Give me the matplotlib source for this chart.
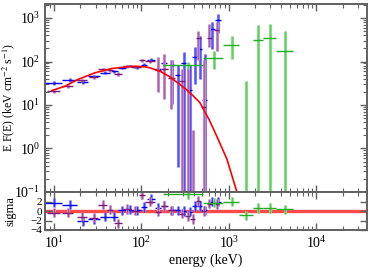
import numpy as np
import matplotlib
matplotlib.use("Agg")
import matplotlib.pyplot as plt
from matplotlib.ticker import FixedLocator

plt.rcParams['font.family'] = 'serif'
plt.rcParams['font.serif'] = ['Liberation Serif', 'DejaVu Serif']
plt.rcParams['mathtext.fontset'] = 'stix'

# detector 1 (blue): bin edges in keV, E F(E), lower/upper bounds, residual (sigma)
b_lo = [7.9, 12.3, 18.3, 24.5, 33.6, 43.7, 54.0, 66.7, 80.1, 98.9, 116, 143, 167, 212, 242, 281, 333, 383, 438, 500, 593, 695]
b_hi = [12.3, 18.3, 24.5, 33.6, 43.7, 54.0, 66.7, 80.1, 98.9, 116, 143, 167, 196, 242, 277, 328, 379, 438, 500, 570, 695, 814]
b_flux = [32.4, 37.6, 33.8, 45.9, 54.9, 59.8, 71.6, 78, 74, 85, 111, 65.5, 90, 81, 47.7, 94.8, 22.7, 130, 189, 12.7, 574, 877]
b_low = [29, 34, 31, 42.5, 51, 55.5, 66.5, 73, 69, 78, 101, 53, 76, 10.3, 0.37, 1e-3, 1e-3, 29.6, 38.6, 1e-3, 189, 464]
b_high = [36, 41, 37, 49.5, 59, 64.5, 76.5, 83, 79, 92, 121, 78, 104, 111, 81, 164, 85, 221, 376, 145, 831, 1270]
b_res = [1.8, 1.4, -2.2, -1.7, -1.2, -1.2, 0.2, 0.3, 0.2, 0.9, 2.6, 0.7, 1.1, 0.2, 0.2, 0.0, -0.1, 1.1, 1.1, 0.2, 2.0, 2.0]

# detector 2 (purple)
p_lo = [8.3, 12.3, 18.3, 25.1, 31.9, 40.5, 48.6, 61.6, 76, 93.9, 110, 143, 167, 201, 270, 319, 365, 422, 488, 563, 687]
p_hi = [11.7, 16.6, 23.8, 31.9, 40.5, 47.3, 60, 76, 93.9, 110, 143, 167, 201, 242, 314, 365, 415, 480, 556, 642, 784]
p_flux = [20.7, 27, 37, 44, 65.5, 63, 52.2, 76.8, 74.8, 107, 101.6, 65, 68, 42.8, 34.7, -40, -25, 356, 9, 356, 544]
p_low = [18.7, 24.5, 34, 40.5, 61, 58, 47.2, 71.8, 69.8, 99, 93.6, 19.4, 13.4, 7.9, 1e-3, 1e-3, 1e-3, 111, 1e-3, 210, 170]
p_high = [22.7, 29.5, 40, 47.5, 70, 68, 57.2, 81.8, 79.8, 115, 109.6, 124, 145, 111, 65.5, 72.9, 2.7, 490, 111, 710, 790]
p_res = [-0.3, -0.3, -1.2, -1.4, 1.4, 0.3, -2.6, 0.5, 0.1, 3.5, 2.0, -0.1, 1.1, 0.2, -0.5, -1.0, -1.7, 2.2, 0.0, 1.6, 1.5]

# detector 3 (green)
g_lo = [177, 507, 856, 1300, 1890, 2460, 3460]
g_hi = [507, 856, 1300, 1890, 2460, 3460, 5400]
g_flux = [81, 123, 246, -30, 320, 355, 179]
g_low = [65.5, 65.5, 117, 1e-3, 1e-3, 1e-3, 1e-3]
g_high = [100, 170, 376, 35, 673, 748, 490]
g_res = [3.7, 1.8, 2.0, -0.9, 0.7, 0.7, 0.4]

# model curve
m_e = [9.5, 13.4, 18.8, 29.5, 46, 68.5, 84.6, 110, 125, 163, 212, 276, 343, 466, 600, 731, 956, 1100, 1241, 1300]
m_flux = [21.5, 27, 38.5, 55, 69, 75.5, 78, 75.5, 71.7, 60, 44.5, 29.6, 21, 11.5, 4.5, 1.9, 0.56, 0.22, 0.1, 0.07]

sets = [
    (b_lo, b_hi, b_flux, b_low, b_high, b_res, '#0000ee', '#7b7bff'),
    (p_lo, p_hi, p_flux, p_low, p_high, p_res, '#7a1a7a', '#c48ac4'),
    (g_lo, g_hi, g_flux, g_low, g_high, g_res, '#1fae1f', '#86db86'),
]

fig = plt.figure(figsize=(3.74, 2.67), dpi=100)
ax = fig.add_axes([0.120, 0.281, 0.861, 0.704])
axr = fig.add_axes([0.120, 0.139, 0.861, 0.142], sharex=ax)

for lo, hi, flux, low, high, res, dark, light in sets:
    lo, hi = np.array(lo), np.array(hi)
    mid = (lo + hi) / 2
    flux = np.array(flux, dtype=float)
    shown = np.where(flux > 0, flux, np.nan)
    ax.vlines(mid, low, high, color=light, lw=2.2)
    ax.vlines(mid, low, high, color=dark, lw=0.4, alpha=0.6)
    ax.hlines(shown, lo, hi, color=dark, lw=1.0)
    res = np.array(res)
    axr.vlines(mid, res - 1, res + 1, color=light, lw=2.0)
    axr.vlines(mid, res - 1, res + 1, color=dark, lw=0.5, alpha=0.7)
    axr.hlines(res, lo, hi, color=dark, lw=1.0)

ax.plot(m_e, m_flux, color='#ff0000', lw=1.2, zorder=5)
axr.axhline(0, color='#ff4a4a', lw=2.4, zorder=0)

ax.set_xscale('log')
ax.set_yscale('log')
ax.set_xlim(7.9, 38000)
ax.set_ylim(0.1, 2100)
axr.set_ylim(-4.0, 4.1)
axr.yaxis.set_major_locator(FixedLocator([-4, -2, 0, 2]))

for a in (ax, axr):
    for s in a.spines.values():
        s.set_color('#606060')
        s.set_linewidth(1.4)
    a.tick_params(which='both', direction='in', top=True, right=True, colors='#606060',
                  labelcolor='black', labelsize=10)
    a.tick_params(which='major', length=5, width=1.0)
    a.tick_params(which='minor', length=3, width=0.8)

axr.tick_params(axis='y', labelsize=8, pad=2)
ax.tick_params(labelbottom=False)
ax.set_ylabel('E F(E) (keV cm$^{-2}$ s$^{-1}$)', fontsize=8.5)
axr.set_ylabel('sigma', fontsize=9)
axr.set_xlabel('energy (keV)', fontsize=10, labelpad=2)
ax.yaxis.set_label_coords(-0.088, 0.5)
axr.yaxis.set_label_coords(-0.088, 0.5)

fig.savefig('out.png', dpi=100)
